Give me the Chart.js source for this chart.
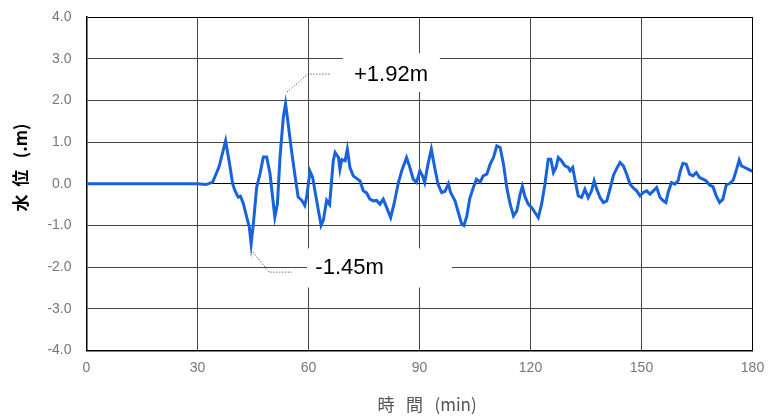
<!DOCTYPE html>
<html>
<head>
<meta charset="utf-8">
<script src="https://cdn.jsdelivr.net/npm/chart.js@4"></script>
<style>
  body { margin: 0; background: #fff; }
  #wrap { width: 769px; height: 416px; }
</style>
</head>
<body>
<div id="wrap"><canvas id="levelChart" width="769" height="416"></canvas></div>
<script>
// time (min) and water level (m)
const minutes = [
  0, 30, 32.3, 34.1, 35.8, 37.6, 38.8, 39.5, 40.1, 41.0, 41.6, 42.4, 43.3, 44.0, 44.5, 45.1,
  46.0, 46.9, 47.8, 48.7, 49.6, 50.5, 50.9, 51.6, 52.3, 53.2, 53.8, 54.5, 55.4, 56.4, 57.2,
  58.2, 59.0, 59.5, 60.4, 61.1, 62.2, 63.4, 64.0, 64.9, 65.7, 66.7, 67.2, 68.1, 68.5, 69.0,
  69.9, 70.5, 71.2, 72.1, 73.0, 73.9, 74.8, 75.7, 76.6, 77.5, 78.4, 79.3, 80.2, 81.3, 82.2,
  83.1, 84.3, 85.2, 86.5, 87.4, 88.3, 89.2, 90.1, 90.8, 91.4, 92.3, 93.2, 94.1, 95.0, 96.0,
  96.9, 97.8, 98.4, 99.6, 100.5, 101.4, 102.0, 102.8, 103.6, 104.5, 105.4, 106.4, 107.2, 108.2,
  109.1, 110.0, 110.9, 111.8, 112.7, 113.6, 114.5, 115.4, 116.3, 117.2, 117.8, 118.5, 119.4,
  120.3, 121.2, 122.1, 123.0, 123.9, 124.8, 125.5, 126.2, 126.9, 127.5, 128.4, 129.3, 130.2,
  130.7, 131.4, 132.0, 132.9, 133.8, 134.7, 135.6, 136.5, 137.2, 137.9, 138.8, 139.7, 140.6,
  141.5, 142.4, 143.3, 144.2, 145.1, 146.0, 146.9, 147.8, 148.7, 149.6, 150.5, 151.4, 152.3,
  153.2, 154.1, 155.0, 155.9, 156.6, 157.2, 158.1, 159.0, 159.9, 160.5, 161.2, 162.1, 163.0,
  163.9, 164.8, 165.7, 166.6, 167.5, 168.4, 169.3, 170.2, 171.1, 172.0, 172.9, 173.9, 174.8,
  175.7, 176.4, 177.0, 177.9, 178.8, 179.7, 180
];
const levels = [
  0, 0, -0.02, 0.04, 0.40, 1.03, 0.40, 0.0, -0.16, -0.32, -0.30, -0.48, -0.80, -1.04, -1.45, -0.96,
  -0.08, 0.24, 0.64, 0.64, 0.24, -0.48, -0.80, -0.48, 0.64, 1.60, 1.92, 1.44, 0.80, 0.16, -0.32,
  -0.40, -0.52, -0.32, 0.30, 0.16, -0.40, -1.00, -0.88, -0.40, -0.50, 0.55, 0.75, 0.63, 0.35, 0.58,
  0.55, 0.83, 0.39, 0.19, 0.13, 0.07, -0.17, -0.22, -0.37, -0.41, -0.40, -0.49, -0.37, -0.61, -0.81,
  -0.49, 0.03, 0.31, 0.63, 0.39, 0.11, 0.03, 0.31, 0.19, 0.03, 0.47, 0.83, 0.39, -0.01, -0.21,
  -0.18, 0.0, -0.21, -0.41, -0.69, -0.97, -1.00, -0.77, -0.35, -0.10, 0.11, 0.04, 0.19, 0.23,
  0.47, 0.63, 0.91, 0.87, 0.47, -0.10, -0.49, -0.77, -0.65, -0.25, -0.06, -0.31, -0.49,
  -0.57, -0.69, -0.81, -0.49, -0.01, 0.59, 0.59, 0.27, 0.39, 0.63, 0.55, 0.43, 0.39,
  0.31, 0.39, 0.11, -0.29, -0.33, -0.13, -0.33, -0.17, 0.07, -0.13, -0.33, -0.45, -0.41,
  -0.12, 0.20, 0.37, 0.51, 0.43, 0.23, -0.01, -0.10, -0.17, -0.29, -0.21, -0.17, -0.25,
  -0.17, -0.09, -0.33, -0.41, -0.45, -0.21, 0.03, -0.01, 0.07, 0.31, 0.49, 0.47, 0.23,
  0.19, 0.27, 0.15, 0.11, 0.07, -0.03, -0.07, -0.29, -0.45, -0.37, -0.03, 0.01, 0.09,
  0.35, 0.57, 0.43, 0.39, 0.35, 0.31, 0.32
];
const xTicks = [0, 30, 60, 90, 120, 150, 180];
const yTicks = [-4, -3, -2, -1, 0, 1, 2, 3, 4];

// callout labels (data units): text box, text centre, dotted leader
const callouts = [
  { text: '+1.92m', box: [69.3, 95.5, 3.13, 2.2], at: [82.3, 2.62], leader: [[54.2, 2.2], [59.9, 2.63], [65.8, 2.63]] },
  { text: '-1.45m', box: [59.6, 98.8, -1.55, -2.49], at: [71.1, -2.03], leader: [[45.0, -1.64], [49.3, -2.12], [55.5, -2.12]] }
];

const calloutPlugin = {
  id: 'callouts',
  beforeDatasetsDraw(chart) {
    const { ctx, scales: { x, y } } = chart;
    ctx.save();
    callouts.forEach(c => {
      const x0 = x.getPixelForValue(c.box[0]), x1 = x.getPixelForValue(c.box[1]);
      const y0 = y.getPixelForValue(c.box[2]), y1 = y.getPixelForValue(c.box[3]);
      ctx.fillStyle = '#fff';
      ctx.fillRect(x0, y0, x1 - x0, y1 - y0);
      ctx.fillStyle = '#000';
      ctx.font = '22px "Liberation Sans", Arial, sans-serif';
      ctx.textAlign = 'center';
      ctx.textBaseline = 'middle';
      ctx.fillText(c.text, x.getPixelForValue(c.at[0]), y.getPixelForValue(c.at[1]));
      ctx.strokeStyle = '#222';
      ctx.lineWidth = 1;
      ctx.setLineDash([1, 2]);
      ctx.beginPath();
      c.leader.forEach((p, i) => {
        const px = x.getPixelForValue(p[0]), py = y.getPixelForValue(p[1]);
        if (i === 0) ctx.moveTo(px, py); else ctx.lineTo(px, py);
      });
      ctx.stroke();
      ctx.setLineDash([]);
    });
    ctx.restore();
  }
};

const tickFont = { family: '"Liberation Sans Narrow", "Liberation Sans", sans-serif', size: 14 };

new Chart(document.getElementById('levelChart'), {
  type: 'line',
  data: {
    datasets: [{
      data: minutes.map((m, i) => ({ x: m, y: levels[i] })),
      borderColor: '#1862dc',
      borderWidth: 3,
      pointRadius: 0,
      tension: 0,
      fill: false
    }]
  },
  options: {
    responsive: false,
    animation: false,
    layout: { padding: { top: 17, right: 16.5, left: 0, bottom: 0 }, autoPadding: false },
    plugins: { legend: { display: false }, tooltip: { enabled: false } },
    scales: {
      x: {
        type: 'linear',
        min: 0,
        max: 180,
        afterFit: s => { s.height = 65.5; s.paddingLeft = 0; s.paddingRight = 0; },
        afterBuildTicks: s => { s.ticks = xTicks.map(v => ({ value: v })); },
        grid: {
          drawTicks: false,
          color: ctx => (ctx.tick && (ctx.tick.value === 0 || ctx.tick.value === 180)) ? '#000' : '#444',
          lineWidth: 1
        },
        border: { color: '#000', width: 1.5 },
        ticks: { color: '#777', font: tickFont, padding: 9, maxRotation: 0 },
        title: {
          display: true,
          text: '    時   間   (min)',
          color: '#555',
          font: { family: '"Noto Sans CJK JP", sans-serif', size: 17 },
          padding: { bottom: 1 }
        }
      },
      y: {
        min: -4,
        max: 4,
        afterFit: s => { s.width = 86.5; s.paddingTop = 0; s.paddingBottom = 0; },
        afterBuildTicks: s => { s.ticks = yTicks.map(v => ({ value: v })); },
        grid: {
          drawTicks: false,
          color: ctx => (ctx.tick && Math.abs(ctx.tick.value) !== 1 && Math.abs(ctx.tick.value) !== 2 && Math.abs(ctx.tick.value) !== 3) ? '#000' : '#444',
          lineWidth: 1
        },
        border: { color: '#000', width: 1.5 },
        ticks: { color: '#777', font: tickFont, padding: 15, callback: v => v.toFixed(1) },
        title: {
          display: true,
          text: '\u3000    水  位   (.m)',
          color: '#000',
          font: { family: '"Noto Sans CJK JP", sans-serif', size: 17, weight: 'bold' },
          padding: { top: 10 }
        }
      }
    }
  },
  plugins: [calloutPlugin]
});
</script>
</body>
</html>
